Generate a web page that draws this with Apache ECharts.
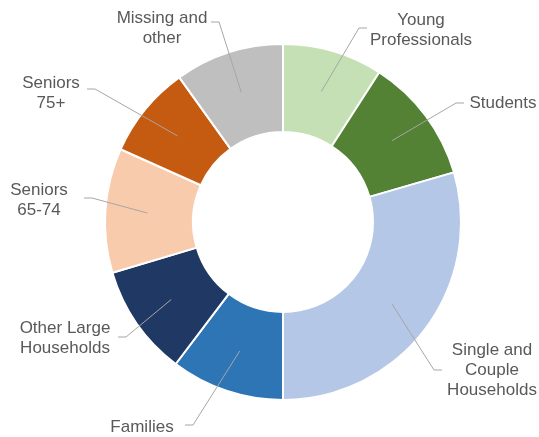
<!DOCTYPE html>
<html>
<head>
<meta charset="utf-8">
<script src="https://cdn.jsdelivr.net/npm/echarts@6/dist/echarts.min.js"></script>
<style>
  html, body { margin: 0; padding: 0; background: #fff; }
  #main { width: 539px; height: 437px; }
</style>
</head>
<body>
<div id="main"></div>
<script>
// segments, clockwise from 12 o'clock
const categories = [
  'Young\nProfessionals',
  'Students',
  'Single and\nCouple\nHouseholds',
  'Families',
  'Other Large\nHouseholds',
  'Seniors\n65-74',
  'Seniors\n75+',
  'Missing and\nother'
];
const shares = [9.1, 11.4, 29.5, 10.3, 10.1, 11.3, 8.4, 9.9];
const colors = ['#c5e0b4', '#548235', '#b4c7e7', '#2e75b6', '#203864', '#f8cbad', '#c55a11', '#bfbfbf'];

// where each label sits: [textX, textY, lineEndX, lineEndY]
const labelSpots = [
  [421, 30, 367, 28],
  [503, 103, 464, 103],
  [492, 370, 442, 370],
  [142, 427, 185, 425],
  [65, 338, 118, 337],
  [39, 200, 84, 198],
  [51, 93, 87, 89],
  [162, 28, 211, 22]
];

const myChart = echarts.init(document.getElementById('main'));

const pieData = categories.map((name, i) => ({
  name: name,
  value: shares[i],
  itemStyle: { color: colors[i] }
}));

const option = {
  animation: false,
  series: [
    {
      type: 'pie',
      z: 2,
      center: [283, 222],
      radius: [90, 178],
      startAngle: 90,
      clockwise: true,
      silent: true,
      itemStyle: { borderColor: '#fff', borderWidth: 2 },
      label: { show: false },
      labelLine: { show: false },
      data: pieData
    },
    {
      // invisible ring used only to anchor the label lines mid-ring
      type: 'pie',
      z: 5,
      center: [283, 222],
      radius: [0, 136],
      startAngle: 90,
      clockwise: true,
      silent: true,
      avoidLabelOverlap: false,
      itemStyle: { color: 'rgba(0,0,0,0)', borderWidth: 0 },
      label: {
        show: true,
        position: 'outside',
        fontFamily: 'Liberation Sans, Arial, sans-serif',
        fontSize: 17,
        lineHeight: 20,
        color: '#595959',
        formatter: '{b}'
      },
      labelLine: {
        show: true,
        length: 20,
        length2: 10,
        lineStyle: { color: '#a6a6a6', width: 1 }
      },
      labelLayout: function (params) {
        const spot = labelSpots[params.dataIndex];
        const start = params.labelLinePoints[0];
        const ex = spot[2], ey = spot[3];
        const elbow = [ex + (start[0] > ex ? 8 : -8), ey];
        return {
          x: spot[0],
          y: spot[1],
          align: 'center',
          verticalAlign: 'middle',
          labelLinePoints: [start, elbow, [ex, ey]]
        };
      },
      data: categories.map((name, i) => ({ name: name, value: shares[i] }))
    }
  ]
};

myChart.setOption(option);
</script>
</body>
</html>
